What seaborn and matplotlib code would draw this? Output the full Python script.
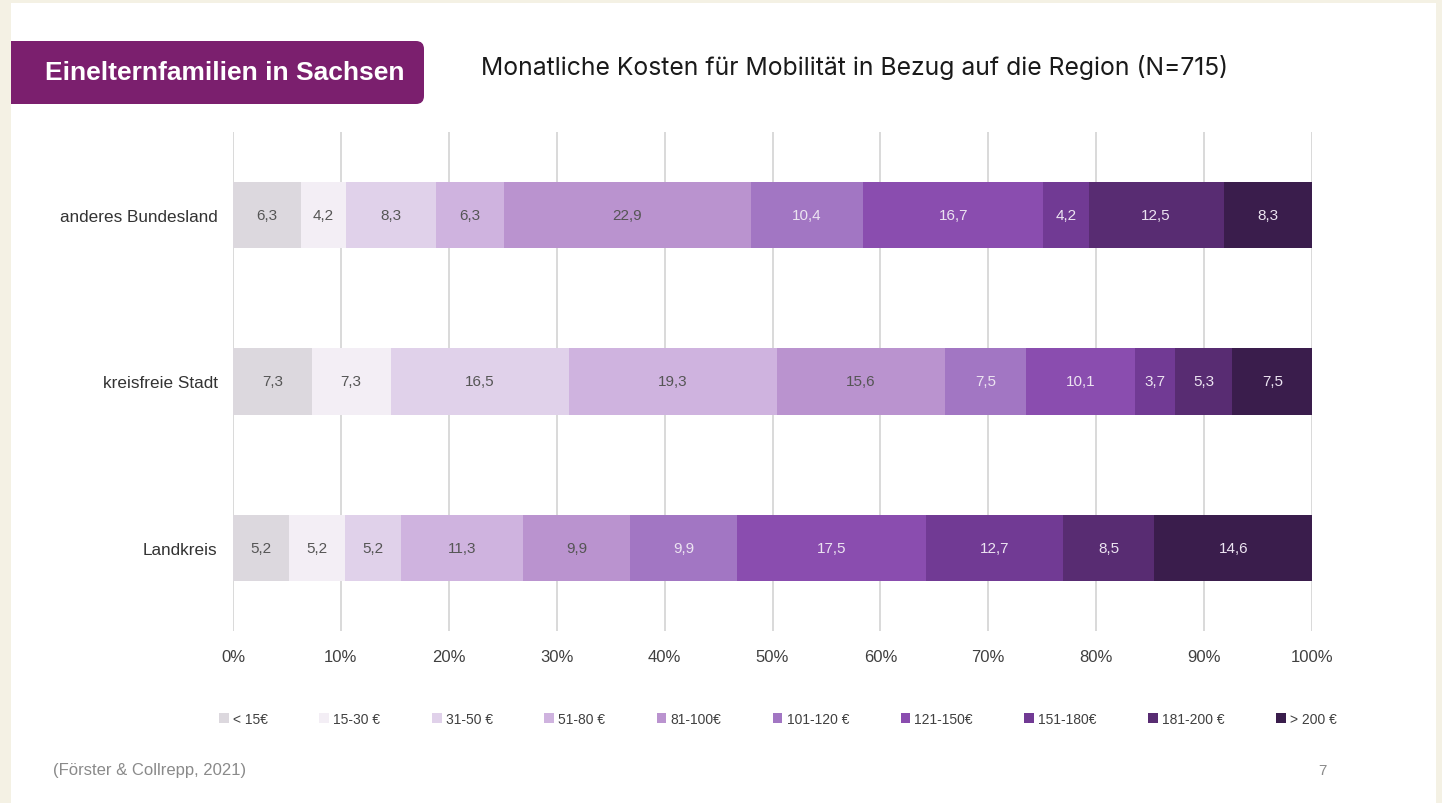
import numpy as np
import pandas as pd
import matplotlib.pyplot as plt
import seaborn as sns
from matplotlib.patches import Patch, Rectangle, FancyBboxPatch

# Data (percent per region)
regions = ['anderes Bundesland', 'kreisfreie Stadt', 'Landkreis']
cost_bins = ['< 15€', '15-30 €', '31-50 €', '51-80 €', '81-100€', '101-120 €',
             '121-150€', '151-180€', '181-200 €', '> 200 €']
anderes_bundesland = [6.3, 4.2, 8.3, 6.3, 22.9, 10.4, 16.7, 4.2, 12.5, 8.3]
kreisfreie_stadt = [7.3, 7.3, 16.5, 19.3, 15.6, 7.5, 10.1, 3.7, 5.3, 7.5]
landkreis = [5.2, 5.2, 5.2, 11.3, 9.9, 9.9, 17.5, 12.7, 8.5, 14.6]
x_ticks = [0, 10, 20, 30, 40, 50, 60, 70, 80, 90, 100]

colors = ['#dcd8de', '#f3eef5', '#e0d1ea', '#cfb3df', '#ba93cf',
          '#a276c3', '#8a4daf', '#713a94', '#582c72', '#3a1d4c']
label_colors = ['#555555'] * 5 + ['#ece4f1'] * 5

sns.set_theme(style='white')
plt.rcParams['font.family'] = ['Liberation Sans', 'DejaVu Sans']

values = np.array([anderes_bundesland, kreisfreie_stadt, landkreis])
cum = np.cumsum(values, axis=1)

fig = plt.figure(figsize=(14.42, 8.04), dpi=100, facecolor='white')
ax = fig.add_axes([233 / 1442, 1 - 632 / 804, (1312 - 233) / 1442, (632 - 133) / 804])

# stacked bars: draw cumulative totals from the right, smaller ones on top
for i in reversed(range(len(cost_bins))):
    df = pd.DataFrame({'region': regions, 'cum': cum[:, i]})
    sns.barplot(data=df, x='cum', y='region', color=colors[i], width=0.4,
                saturation=1, linewidth=0, ax=ax, zorder=2)

# value labels in the middle of each segment
for r in range(len(regions)):
    for i in range(len(cost_bins)):
        center = cum[r, i] - values[r, i] / 2
        ax.text(center, r, f'{values[r, i]:.1f}'.replace('.', ','),
                ha='center', va='center', fontsize=11, color=label_colors[i], zorder=3)

ax.set_xlim(0, 100)
ax.set_ylim(2.5, -0.5)
ax.set_xticks(x_ticks)
ax.set_xticklabels([f'{t}%' for t in x_ticks])
ax.set_xlabel('')
ax.set_ylabel('')
ax.grid(axis='x', color='#d9d9d9', linewidth=1.4, zorder=0)
ax.grid(axis='y', visible=False)
ax.set_axisbelow(True)
for s in ax.spines.values():
    s.set_visible(False)
ax.tick_params(axis='x', length=0, pad=13, labelsize=12, labelcolor='#404040')
ax.tick_params(axis='y', length=0, pad=11, labelsize=12.3, labelcolor='#333333')

# legend
handles = [Patch(facecolor=c, edgecolor='none') for c in colors]
fig.legend(handles, cost_bins, loc='center', bbox_to_anchor=(778 / 1442, 1 - 720 / 804),
           ncol=10, frameon=False, fontsize=10, handlelength=0.7, handleheight=0.7,
           handletextpad=0.3, columnspacing=3.7, labelcolor='#404040')

# titles
fig.text(855 / 1442, 1 - 68 / 804, 'Monatliche Kosten für Mobilität in Bezug auf die Region (N=715)',
         ha='center', va='center', fontsize=17.8, color='#1a1a1a', family=['Inter', 'DejaVu Sans'])

px = fig.dpi_scale_trans
fig.add_artist(FancyBboxPatch((-0.2, 8.04 - 1.05), 4.44, 0.63,
                              boxstyle='round,pad=0,rounding_size=0.08',
                              facecolor='#7b1f6e', edgecolor='none', transform=px, zorder=5))
fig.text(225 / 1442, 1 - 73 / 804, 'Einelternfamilien in Sachsen', ha='center', va='center',
         fontsize=19, fontweight='bold', color='white', zorder=6)

fig.text(53 / 1442, 1 - 771 / 804, '(Förster & Collrepp, 2021)', ha='left', va='center',
         fontsize=12, color='#8a8a8a')
fig.text(1322 / 1442, 1 - 771 / 804, '7', ha='center', va='center', fontsize=11, color='#8a8a8a')

# beige frame edges
beige = '#f4f1e4'
fig.add_artist(Rectangle((0, 0), 11 / 1442, 1, transform=fig.transFigure,
                         facecolor=beige, edgecolor='none', zorder=10))
fig.add_artist(Rectangle((0, 1 - 4 / 804), 1, 4 / 804, transform=fig.transFigure,
                         facecolor=beige, edgecolor='none', zorder=10))
fig.add_artist(Rectangle((1 - 6 / 1442, 0), 6 / 1442, 1, transform=fig.transFigure,
                         facecolor=beige, edgecolor='none', zorder=10))

fig.savefig('out.png', dpi=100, facecolor=fig.get_facecolor())
